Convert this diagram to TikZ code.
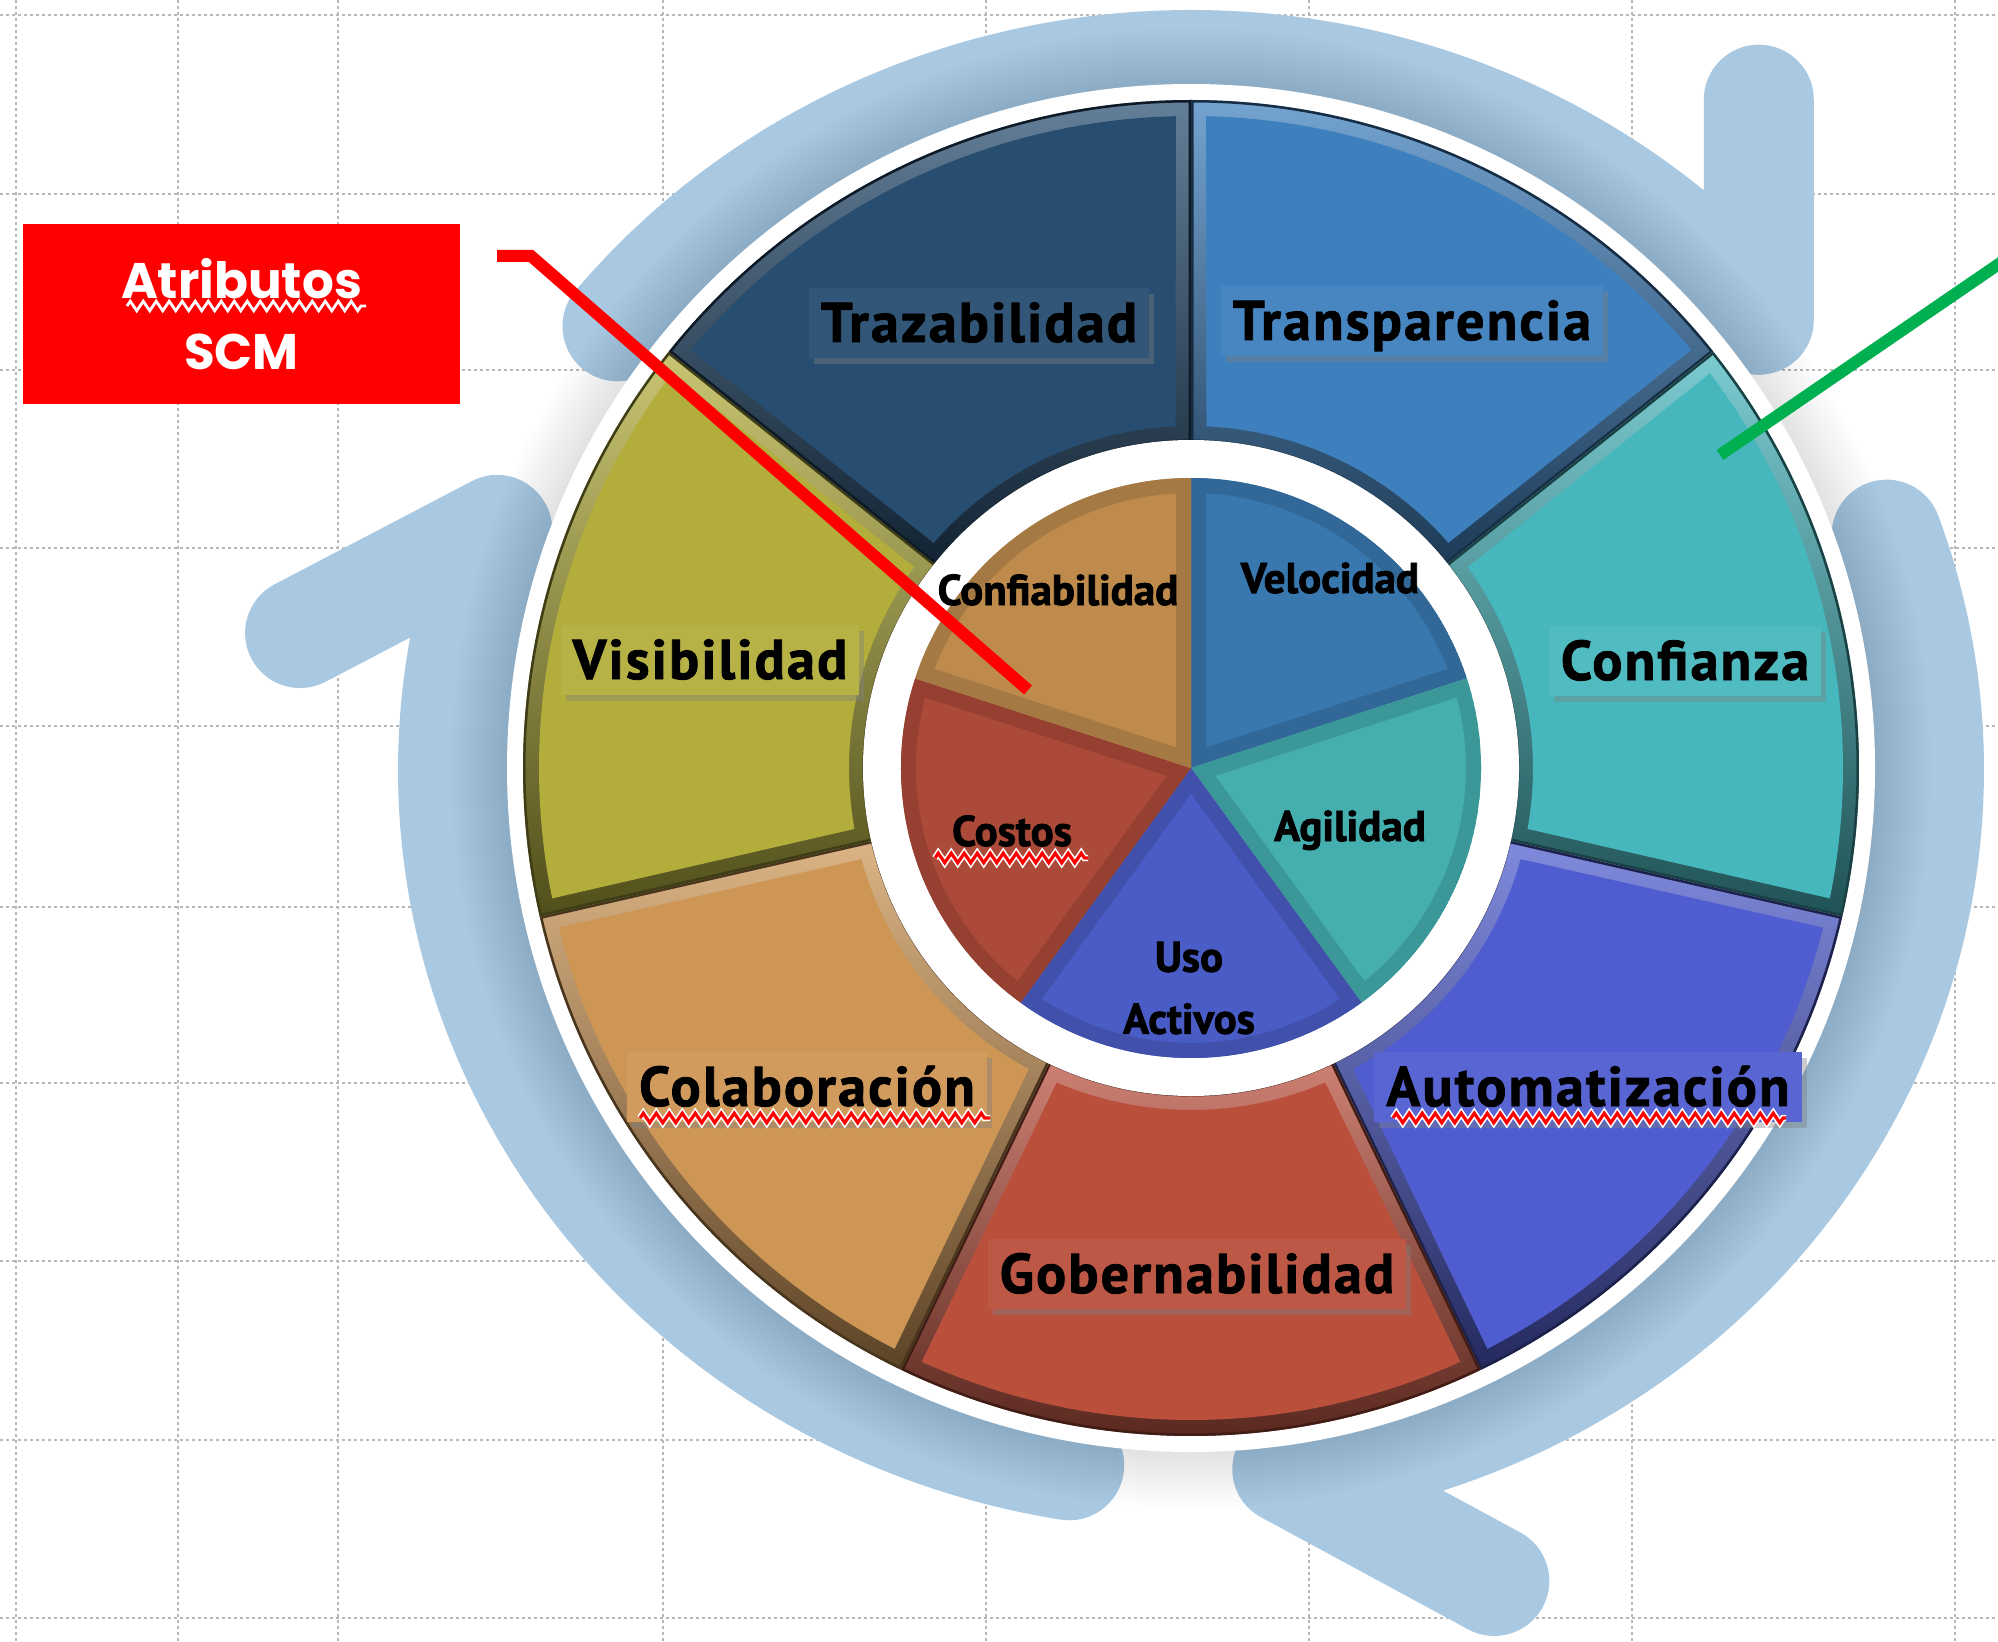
\documentclass[tikz,border=0pt]{standalone}
\usepackage{fontspec}
\newfontfamily\lblfont{PT Sans}[BoldFeatures={FakeBold=1.5, LetterSpace=4}]
\newfontfamily\ilblfont{PT Sans}[BoldFeatures={FakeBold=1.8}]
\newfontfamily\atrfont{Poppins}
\usetikzlibrary{calc,shadows,decorations.pathmorphing}

\definecolor{cTraz}{HTML}{274D70}
\definecolor{cTrans}{HTML}{3E80BE}
\definecolor{cConf}{HTML}{47B7BE}
\definecolor{cAuto}{HTML}{4F5DD0}
\definecolor{cGob}{HTML}{BA4F3C}
\definecolor{cCola}{HTML}{CE9655}
\definecolor{cVis}{HTML}{B3AE3B}
\definecolor{iConf}{HTML}{BE8B4D}
\definecolor{iVel}{HTML}{3978AE}
\definecolor{iAgi}{HTML}{45AEAF}
\definecolor{iUso}{HTML}{4A5CC5}
\definecolor{iCos}{HTML}{AB4A38}
\definecolor{bandc}{HTML}{A9C8E1}
\definecolor{gline}{HTML}{00B050}
\definecolor{rline}{HTML}{FF0000}

\pgfdeclareradialshading{ringsh}{\pgfpoint{0bp}{0bp}}{color(0bp)=(white); color(44bp)=(white); color(46.5bp)=(white); color(50bp)=(black!22)}

\tikzset{
  gridln/.style={black!28, line width=0.8pt, dash pattern=on 1.5pt off 1.5pt},
  band/.style={bandc, line width=55pt, line cap=round, line join=round},
  osec/.style 2 args={insert path={($(W)+(#1:668)$) arc[start angle=#1, end angle=#2, radius=668] -- ($(W)+(#2:326)$) arc[start angle=#2, end angle=#1, radius=326] -- cycle}},
  oinset/.style 2 args={insert path={($(W)+(#1+1.32:652)$) arc[start angle=#1+1.32, end angle=#2-1.32, radius=652] -- ($(W)+(#2-2.6:342)$) arc[start angle=#2-2.6, end angle=#1+2.6, radius=342] -- cycle}},
  isec/.style 2 args={insert path={(W) -- ($(W)+(#1:290)$) arc[start angle=#1, end angle=#2, radius=290] -- cycle}},
  olbl/.style={font=\lblfont\bfseries\fontsize{28pt}{30pt}\selectfont, text=black, fill=#1!95!white,
    inner xsep=6pt, inner ysep=0pt, text height=27pt, text depth=8pt, anchor=base,
    drop shadow={shadow xshift=2.5pt, shadow yshift=-3pt, opacity=.4}},
  ilbl/.style={font=\ilblfont\bfseries\fontsize{21.5pt}{31pt}\selectfont, text=black, inner sep=0pt},
  sqw/.style={white, line width=3.2pt, decorate, decoration={zigzag, segment length=6.5pt, amplitude=2.4pt}},
  sqr/.style={rline, line width=1.6pt, decorate, decoration={zigzag, segment length=6.5pt, amplitude=2.4pt}},
  redln/.style={rline, line width=6pt},
  greenln/.style={gline, line width=6pt},
}

\newcommand\OSeg[3]{%
  \begin{scope}
    \clip[osec={#2}{#3}];
    \shade[top color=#1!72!white, middle color=#1!72!black, bottom color=#1!45!black, osec={#2}{#3}];
    \fill[#1, oinset={#2}{#3}];
    \draw[#1!35!black, line width=2.5pt, osec={#2}{#3}];
  \end{scope}}

\newcommand\ISeg[3]{%
  \begin{scope}
    \clip[isec={#2}{#3}];
    \fill[#1, isec={#2}{#3}];
    \draw[#1!87!black, line width=15pt, isec={#2}{#3}];
  \end{scope}}

\begin{document}
\begin{tikzpicture}[x=0.5pt, y=-0.5pt]
\useasboundingbox (0,0) rectangle (1998,1642);
\clip (0,0) rectangle (1998,1642);
\fill[white] (0,0) rectangle (1998,1642);

% spreadsheet grid
\foreach \gx in {16,178,338,663,986,1309,1632,1955}
  \draw[gridln] (\gx,0) -- (\gx,1642);
\foreach \gy in {15,194,370,548,726,907,1083,1261,1440,1618}
  \draw[gridln] (0,\gy) -- (1998,\gy);

\coordinate (W) at (1191,768);
\coordinate (E) at (1191,770);

% title box
\node[fill=rline, minimum width=218.5pt, minimum height=90pt, inner sep=0pt, text=white, align=center,
  font=\atrfont\bfseries\fontsize{25pt}{35.5pt}\selectfont] (atr) at (241.5,314) {Atributos\\SCM};
\draw[white, line width=1.4pt, decorate, decoration={zigzag, segment length=6.5pt, amplitude=2.4pt}] (127,306) -- (366,306);

% circular arrows
\draw[band] ($(E)+(-141:738 and 705)$) arc[start angle=-141, end angle=-39.7, x radius=738, y radius=705] coordinate (tipA) -- ++(0,-220);
\draw[band] ($(E)+(-19.5:738 and 705)$) arc[start angle=-19.5, end angle=82.5, x radius=738, y radius=705] coordinate (tipB) -- ++(207,112);
\draw[band] ($(E)+(-260.5:738 and 705)$) arc[start angle=-260.5, end angle=-160.1, x radius=738, y radius=705] coordinate (tipC) -- ++(-197,103);

% soft shadow and white halo around the wheel
\foreach \rr in {740,736,...,688}
  \fill[black, opacity=.008] (W) circle[radius=\rr];
\fill[white] (W) circle[radius=684];

% outer segments
\OSeg{cTrans}{-90}{-38.571}
\OSeg{cConf}{-38.571}{12.857}
\OSeg{cAuto}{12.857}{64.286}
\OSeg{cGob}{64.286}{115.714}
\OSeg{cCola}{115.714}{167.143}
\OSeg{cVis}{167.143}{218.571}
\OSeg{cTraz}{218.571}{270}

% white ring
\shade[shading=ringsh] (W) circle[radius=328];

% inner pie
\ISeg{iVel}{-90}{-18}
\ISeg{iAgi}{-18}{54}
\ISeg{iUso}{54}{126}
\ISeg{iCos}{126}{198}
\ISeg{iConf}{198}{270}

% outer labels
\node[olbl=cTraz] (traz) at (979,342) {Trazabilidad};
\node[olbl=cTrans] (trans) at (1412,340) {Transparencia};
\node[olbl=cConf] (conf) at (1685,680) {Confianza};
\node[olbl=cVis] (vis) at (710,679) {Visibilidad};
\node[olbl=cCola] (cola) at (807,1106) {Colaboración};
\node[olbl=cAuto] (auto) at (1588,1106) {Automatización};
\node[olbl=cGob] (gob) at (1197,1293) {Gobernabilidad};

% inner labels
\node[ilbl, anchor=base] (iconf) at (1058,605) {Confiabilidad};
\node[ilbl, anchor=base] (ivel) at (1330,593) {Velocidad};
\node[ilbl, anchor=base] (icos) at (1012,846) {Costos};
\node[ilbl, anchor=base] (iagi) at (1350,841) {Agilidad};
\node[ilbl, align=center] (iuso) at (1189,988) {Uso\\Activos};

% spell-check squiggles
\draw[sqw] (935,858) -- (1088,858);
\draw[sqr] (935,858) -- (1088,858);
\draw[sqw] (640,1118) -- (990,1118);
\draw[sqr] (640,1118) -- (990,1118);
\draw[sqw] (1393,1118) -- (1786,1118);
\draw[sqr] (1393,1118) -- (1786,1118);

% pointer lines
\coordinate (rl0) at (497,256);
\coordinate (rl1) at (531,256);
\coordinate (rl2) at (1028,690);
\draw[redln] (rl0) -- (rl1) -- (rl2);
\coordinate (gl0) at (1720,455);
\coordinate (gl1) at (2012,255);
\draw[greenln] (gl0) -- (gl1);
\end{tikzpicture}
\end{document}
